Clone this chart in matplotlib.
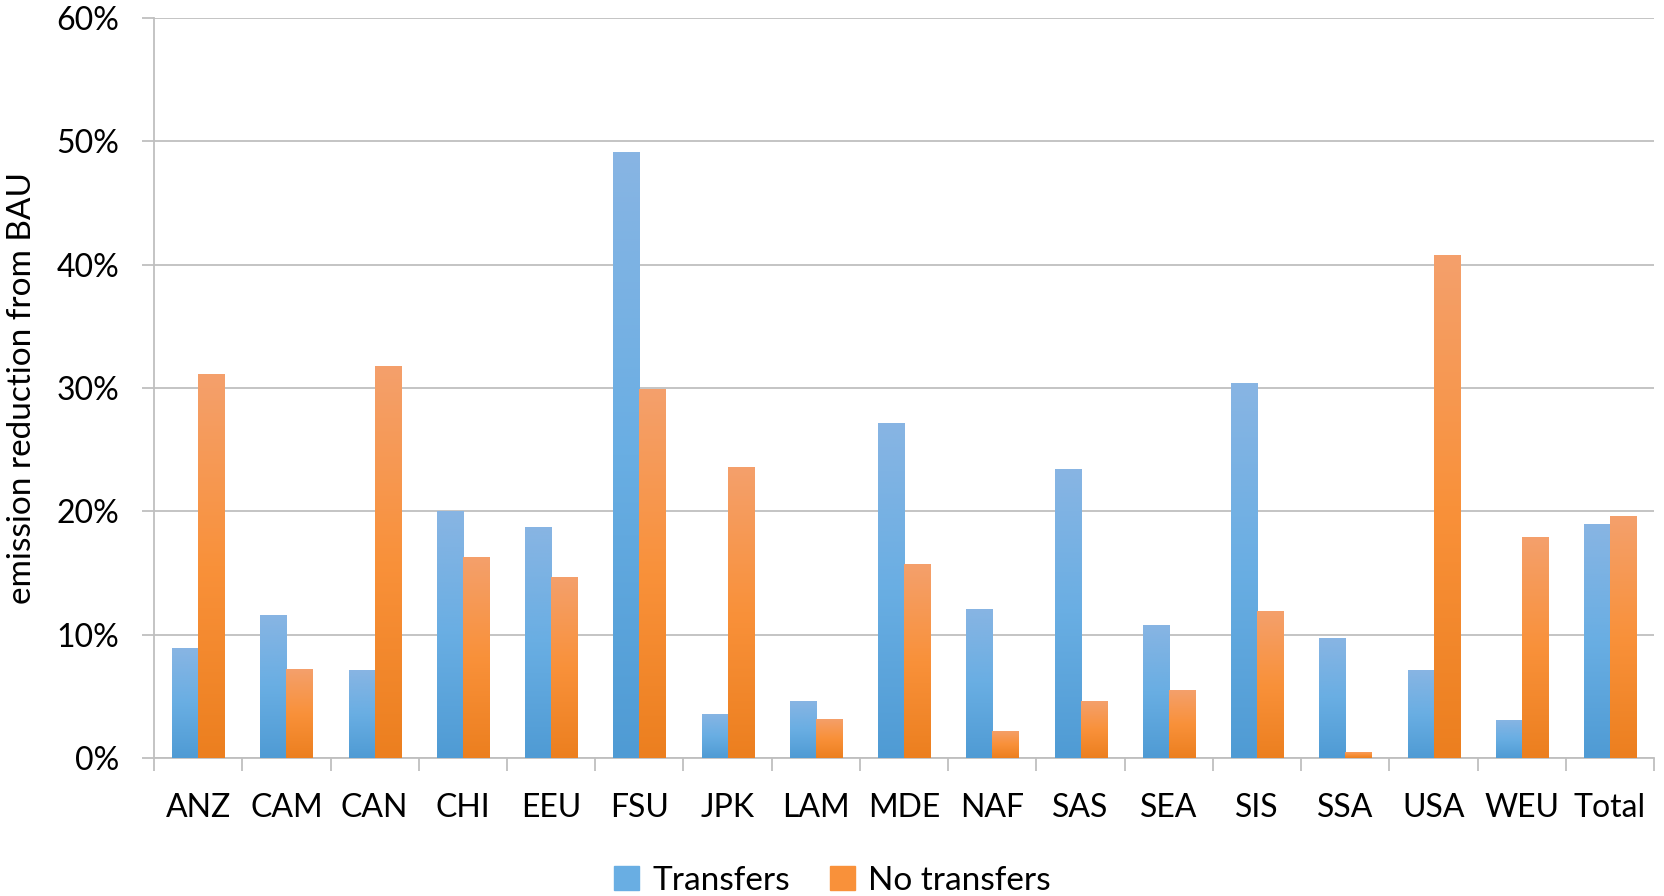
import numpy as np
import matplotlib.pyplot as plt
from matplotlib.colors import LinearSegmentedColormap
from matplotlib.patches import Patch
from matplotlib.ticker import FuncFormatter

regions = ["ANZ", "CAM", "CAN", "CHI", "EEU", "FSU", "JPK", "LAM", "MDE",
           "NAF", "SAS", "SEA", "SIS", "SSA", "USA", "WEU", "Total"]
transfers = [8.9, 11.6, 7.1, 20.0, 18.7, 49.1, 3.6, 4.6, 27.2,
             12.1, 23.4, 10.8, 30.4, 9.7, 7.1, 3.1, 19.0]
no_transfers = [31.1, 7.2, 31.8, 16.3, 14.7, 29.9, 23.6, 3.2, 15.7,
                2.2, 4.6, 5.5, 11.9, 0.5, 40.8, 17.9, 19.6]

# bottom -> top gradient stops
blue_stops = ["#4f9bd4", "#69aee3", "#88b5e3"]
orange_stops = ["#ec7f1f", "#f9913a", "#f4a06c"]

plt.rcParams['font.family'] = ['Lato', 'DejaVu Sans']

fig = plt.figure(figsize=(16.65, 8.96), dpi=100)
ax = fig.add_axes([0.0925, 0.154, 0.901, 0.826])

x = np.arange(len(regions))
w = 0.295
b1 = ax.bar(x - w/2, transfers, w, color="none", linewidth=0, zorder=3)
b2 = ax.bar(x + w/2, no_transfers, w, color="none", linewidth=0, zorder=3)

grad = np.linspace(0, 1, 256).reshape(-1, 1)
for bars, stops in [(b1, blue_stops), (b2, orange_stops)]:
    cmap = LinearSegmentedColormap.from_list("g", stops)
    for p in bars:
        x0, y0 = p.get_x(), p.get_y()
        x1, y1 = x0 + p.get_width(), y0 + p.get_height()
        im = ax.imshow(grad, cmap=cmap, origin="lower", aspect="auto",
                       extent=[x0, x1, y0, y1], zorder=3)
        im.set_clip_path(p)

ax.set_xlim(-0.5, len(regions) - 0.5)
ax.set_ylim(0, 60)
ax.set_yticks(np.arange(0, 61, 10))
ax.yaxis.set_major_formatter(FuncFormatter(lambda v, _: "%d%%" % v))
ax.yaxis.grid(True, color="#bfbfbf", lw=1.3, zorder=0)
ax.set_axisbelow(True)

ax.set_xticks(x)
ax.set_xticklabels(regions)
ax.set_xticks(np.arange(-0.5, len(regions)), minor=True)
ax.tick_params(axis="x", which="major", length=0, pad=25, labelsize=23)
ax.tick_params(axis="x", which="minor", length=9, width=1.3, color="#bfbfbf")
ax.tick_params(axis="y", length=9, width=1.3, color="#bfbfbf", pad=16, labelsize=23)

for s in ["top", "right"]:
    ax.spines[s].set_visible(False)
for s in ["left", "bottom"]:
    ax.spines[s].set_color("#bfbfbf")
    ax.spines[s].set_linewidth(1.3)

ax.set_ylabel("emission reduction from BAU", fontsize=24)
ax.yaxis.set_label_coords(-0.078, 0.5)

handles = [Patch(color=blue_stops[1]), Patch(color=orange_stops[1])]
fig.legend(handles, ["Transfers", "No transfers"], loc="center",
           bbox_to_anchor=(0.5, 0.017), ncol=2, frameon=False, fontsize=24,
           handlelength=0.75, handleheight=0.75, columnspacing=1.2, handletextpad=0.4)

fig.savefig("out.png", dpi=100)
plt.close(fig)
